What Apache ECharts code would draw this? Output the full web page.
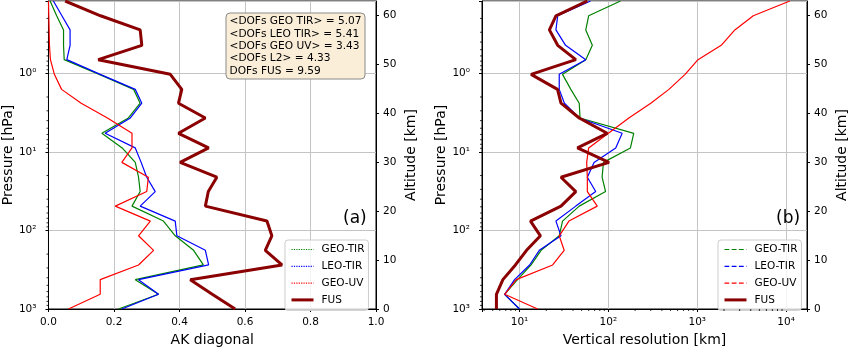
<!DOCTYPE html>
<html>
<head>
<meta charset="utf-8">
<script src="https://cdn.jsdelivr.net/npm/echarts@6/dist/echarts.min.js"></script>
<style>
html, body { margin: 0; padding: 0; background: #fff; }
#main { width: 850px; height: 352px; }
</style>
</head>
<body>
<div id="main"></div>
<script>
// pressure levels (hPa), bottom -> top, roughly every 3 km
var pressure = [1000, 650, 423, 275, 179, 117, 76, 49, 32, 21, 13.6, 8.9, 5.8, 3.7, 2.4, 1.6, 1.03, 0.67, 0.44, 0.28, 0.185, 0.12];

// (a) AK diagonal
var akGeoTir = [0.214, 0.336, 0.265, 0.473, 0.443, 0.387, 0.351, 0.255, 0.28, 0.275, 0.265, 0.225, 0.163, 0.244, 0.28, 0.26, 0.155, 0.048, 0.046, 0.046, 0.025, 0.005];
var akLeoTir = [0.224, 0.336, 0.275, 0.489, 0.479, 0.392, 0.387, 0.28, 0.326, 0.30, 0.283, 0.265, 0.173, 0.25, 0.285, 0.265, 0.158, 0.056, 0.066, 0.066, 0.041, 0.015];
var akGeoUv = [0.061, 0.158, 0.158, 0.275, 0.321, 0.275, 0.311, 0.204, 0.30, 0.305, 0.224, 0.255, 0.255, 0.18, 0.10, 0.04, 0.018, 0.006, 0.003, 0.002, 0.001, 0.0];
var akFus = [0.570, 0.50, 0.433, 0.713, 0.662, 0.682, 0.667, 0.479, 0.488, 0.514, 0.402, 0.489, 0.397, 0.479, 0.397, 0.407, 0.372, 0.152, 0.285, 0.280, 0.159, 0.051];

// (b) vertical resolution [km]
var vrGeoTir = [10, 6.8, 9.5, 13.5, 17.5, 28, 30.5, 47, 93, 85, 88, 177, 193, 48, 47, 37.8, 30.5, 55.7, 66, 55.7, 60, 137];
var vrLeoTir = [10, 6.8, 8.8, 13, 16.7, 29.3, 25.7, 43, 72, 58, 69, 121, 143, 47, 32, 28, 28, 55.7, 33, 25.7, 26.9, 63];
var vrGeoUv = [16, 6.8, 9.2, 23.6, 31.8, 28, 36, 75, 58, 58, 57, 60, 100, 170, 300, 480, 730, 1020, 1860, 2650, 4270, 11000];
var vrFus = [5.5, 5.5, 6.5, 9, 12, 17.2, 13.3, 29.3, 43, 29.3, 101.6, 44.9, 97, 47, 29.3, 26.8, 13.5, 43, 26.9, 21.7, 25.7, 58];

var seriesNames = ['GEO-TIR', 'LEO-TIR', 'GEO-UV', 'FUS'];
var seriesColors = ['#008000', '#0000ff', '#ff0000', '#8b0000'];
var dofsLines = ['<DOFs GEO TIR> = 5.07', '<DOFs LEO TIR> = 5.41', '<DOFs GEO UV> = 3.43', '<DOFs L2> = 4.33', 'DOFs FUS = 9.59'];

var pMin = 0.12, pMax = 1000;
var vrMin = 3.785, vrMax = 17180;
var FONT = 'DejaVu Sans';

var sup = ['\u2070', '\u00b9', '\u00b2', '\u00b3', '\u2074'];
function powLabel(v) {
    var e = Math.log10(v);
    var r = Math.round(e);
    if (Math.abs(e - r) > 0.01) return '';
    return '10' + sup[r];
}

// minor ticks of log axes (2..9 x 10^k)
function minorVals(lo, hi) {
    var out = [];
    for (var k = -2; k <= 5; k++) {
        for (var m = 2; m <= 9; m++) {
            var v = m * Math.pow(10, k);
            if (v > lo && v < hi) out.push(v);
        }
    }
    return out;
}

function pairs(vals) {
    return vals.map(function (v, i) { return [v, pressure[i]]; });
}

var chart = echarts.init(document.getElementById('main'));

var series = [];
[akGeoTir, akLeoTir, akGeoUv, akFus].forEach(function (arr, i) {
    series.push({
        name: seriesNames[i], type: 'line', xAxisIndex: 0, yAxisIndex: 0,
        data: pairs(arr), symbol: 'none', z: 2 + i, color: seriesColors[i],
        lineStyle: { color: seriesColors[i], width: i == 3 ? 3 : 1.2 },
        itemStyle: { color: seriesColors[i] }
    });
});
[vrGeoTir, vrLeoTir, vrGeoUv, vrFus].forEach(function (arr, i) {
    series.push({
        name: seriesNames[i], type: 'line', xAxisIndex: 1, yAxisIndex: 2,
        data: pairs(arr), symbol: 'none', z: 2 + i, color: seriesColors[i],
        lineStyle: { color: seriesColors[i], width: i == 3 ? 3 : 1.2 },
        itemStyle: { color: seriesColors[i] }
    });
});

function tickSeries(xi, yi, data, horiz) {
    return {
        type: 'custom', xAxisIndex: xi, yAxisIndex: yi, silent: true, z: 10,
        data: data,
        renderItem: function (params, api) {
            var p = api.coord([api.value(0), api.value(1)]);
            var shape = horiz ? { x1: p[0] - 2, y1: p[1], x2: p[0], y2: p[1] }
                              : { x1: p[0], y1: p[1], x2: p[0], y2: p[1] + 2 };
            return { type: 'line', shape: shape, style: { stroke: '#000', lineWidth: 0.8 } };
        }
    };
}
var yMinor = minorVals(pMin, pMax);
series.push(tickSeries(0, 0, yMinor.map(function (v) { return [0, v]; }), true));
series.push(tickSeries(1, 2, yMinor.map(function (v) { return [vrMin, v]; }), true));
series.push(tickSeries(1, 2, minorVals(vrMin, vrMax).map(function (v) { return [v, pMax]; }), false));

var axisCommon = {
    axisLine: { show: true, onZero: false, lineStyle: { color: '#000', width: 1 } },
    axisTick: { show: true, length: 3, lineStyle: { color: '#000' } },
    nameTextStyle: { fontSize: 14, color: '#000', fontFamily: FONT },
    nameLocation: 'middle'
};
function ax(o) { return Object.assign({}, axisCommon, o); }

var gridLine = { show: true, lineStyle: { color: '#c4c4c4', width: 1 } };
var labelStyle = { fontSize: 10.5, color: '#000', fontFamily: FONT };

function pressAxis(gi, gap) {
    return ax({
        gridIndex: gi, type: 'log', inverse: true, min: pMin, max: pMax, position: 'left',
        name: 'Pressure [hPa]', nameGap: gap, nameRotate: 90,
        axisLabel: Object.assign({ margin: 12, formatter: powLabel }, labelStyle),
        splitLine: gridLine
    });
}
function altAxis(gi) {
    return ax({
        gridIndex: gi, type: 'value', min: 0, max: 63, interval: 10, position: 'right',
        name: 'Altitude [km]', nameGap: 28, nameRotate: 90,
        axisLabel: Object.assign({ margin: 7, showMaxLabel: false }, labelStyle),
        splitLine: { show: false }
    });
}

// legend: line sample only, no symbol
function legendData(type) {
    return seriesNames.map(function (n, i) {
        return {
            name: n,
            itemStyle: { opacity: 0, borderWidth: 0 },
            lineStyle: {
                color: seriesColors[i],
                width: i == 3 ? 3 : 1.2,
                type: i == 3 ? 'solid' : type
            }
        };
    });
}
function legendBox(left, type) {
    return {
        left: left, top: 240, orient: 'vertical', itemWidth: 22, itemHeight: 10, itemGap: 5.8,
        padding: [4, 4, 5, 5], backgroundColor: 'rgba(255,255,255,0.8)',
        borderColor: '#cccccc', borderWidth: 1, borderRadius: 3,
        textStyle: { fontSize: 10.5, color: '#000', fontFamily: FONT, padding: [0, 0, 0, 3] },
        selectedMode: false,
        data: legendData(type)
    };
}

var option = {
    animation: false,
    backgroundColor: '#fff',
    textStyle: { fontFamily: FONT },
    title: [
        {
            text: dofsLines.join('\n'), left: 226, top: 12.5, padding: [3, 4, 2, 3.5],
            backgroundColor: '#faeed9', borderColor: '#8a8a8a', borderWidth: 1, borderRadius: 4,
            textStyle: { fontSize: 10.6, fontWeight: 'normal', lineHeight: 12.3, color: '#000', fontFamily: FONT }
        },
        { text: '(a)', left: 343, top: 210, padding: 0, textStyle: { fontSize: 17, fontWeight: 'normal', color: '#000', fontFamily: FONT } },
        { text: '(b)', left: 776, top: 210, padding: 0, textStyle: { fontSize: 17, fontWeight: 'normal', color: '#000', fontFamily: FONT } }
    ],
    legend: [legendBox(285, 'dotted'), legendBox(718, 'dashed')],
    grid: [
        { left: 48, top: 1, width: 328, height: 311, show: true, borderColor: '#000', borderWidth: 1, backgroundColor: 'transparent' },
        { left: 482, top: 1, width: 326, height: 311, show: true, borderColor: '#000', borderWidth: 1, backgroundColor: 'transparent' }
    ],
    xAxis: [
        ax({
            gridIndex: 0, type: 'value', min: 0, max: 1, interval: 0.2,
            name: 'AK diagonal', nameGap: 24,
            axisLabel: Object.assign({ margin: 8, formatter: function (v) { return v.toFixed(1); } }, labelStyle),
            splitLine: gridLine
        }),
        ax({
            gridIndex: 1, type: 'log', min: vrMin, max: vrMax,
            name: 'Vertical resolution [km]', nameGap: 24,
            axisLabel: Object.assign({ margin: 8, formatter: powLabel }, labelStyle),
            splitLine: gridLine
        })
    ],
    yAxis: [pressAxis(0, 27), altAxis(0), pressAxis(1, 32), altAxis(1)],
    series: series
};
chart.setOption(option);
</script>
</body>
</html>
